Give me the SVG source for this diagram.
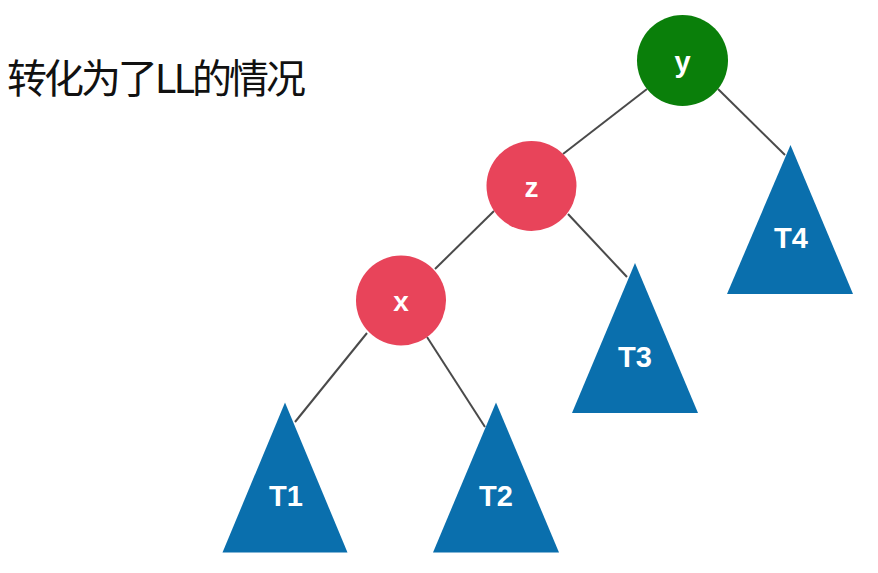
<svg xmlns="http://www.w3.org/2000/svg" width="878" height="573" viewBox="0 0 878 573">
<style>
.edge{stroke:#4a4a4a;stroke-width:2;fill:none}
.red{fill:#e8445a}
.green{fill:#0a7f0a}
.tri{fill:#0a6fad}
.lbl{font-family:"Liberation Sans",Arial,sans-serif;font-weight:bold;fill:#ffffff;text-anchor:middle}
.title{font-family:"Noto Sans CJK SC","Noto Sans",sans-serif;font-size:40px;fill:#111111}
</style>
<rect width="878" height="573" fill="#ffffff"/>
<text class="title" x="7" y="93" textLength="299" lengthAdjust="spacing">转化为了LL的情况</text>
<g id="connectors">
<line class="edge" x1="647" y1="89" x2="563" y2="154"/>
<line class="edge" x1="718" y1="89" x2="785" y2="155"/>
<line class="edge" x1="494" y1="211" x2="435" y2="269"/>
<line class="edge" x1="568" y1="214" x2="627" y2="277"/>
<line class="edge" x1="367" y1="333" x2="295" y2="422"/>
<line class="edge" x1="427" y1="337" x2="485" y2="427"/>
</g>
<g id="node-y">
<circle class="green" cx="682.5" cy="60.5" r="45.5"/>
<text class="lbl" x="682.5" y="71.5" font-size="29">y</text>
</g>
<g id="node-z">
<circle class="red" cx="531.5" cy="186" r="45"/>
<text class="lbl" x="531.5" y="197" font-size="28">z</text>
</g>
<g id="node-x">
<circle class="red" cx="401" cy="300.5" r="45"/>
<text class="lbl" x="401" y="311" font-size="28">x</text>
</g>
<g id="node-T4">
<polygon class="tri" points="790.5,145 853,294 727,294"/>
<text class="lbl" x="791" y="248" font-size="29">T4</text>
</g>
<g id="node-T3">
<polygon class="tri" points="635,263 698,413 572,413"/>
<text class="lbl" x="635" y="366.5" font-size="29">T3</text>
</g>
<g id="node-T1">
<polygon class="tri" points="285,402.5 347.5,552.5 222.5,552.5"/>
<text class="lbl" x="286" y="506" font-size="29">T1</text>
</g>
<g id="node-T2">
<polygon class="tri" points="496,402.5 559,552.5 433,552.5"/>
<text class="lbl" x="496" y="506" font-size="29">T2</text>
</g>
</svg>
